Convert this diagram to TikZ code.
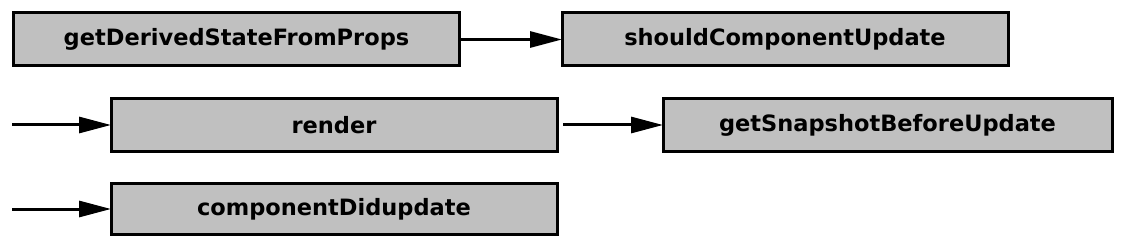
\documentclass[tikz,border=0pt]{standalone}
\usepackage{fontspec}
\setmainfont{DejaVu Sans}
\usepackage{xcolor}
\usetikzlibrary{arrows.meta}

\definecolor{boxgray}{HTML}{C0C0C0}

\begin{document}
\begin{tikzpicture}[x=1pt, y=-1pt,
  font=\bfseries\fontsize{22.5}{27}\selectfont,
  box/.style={draw=black, line width=3pt, fill=boxgray, outer sep=0pt,
              minimum width=446pt, minimum height=53pt, inner sep=0pt},
  arr/.style={-{Triangle[length=32pt, width=16pt]}, line width=3pt, black}]
\useasboundingbox (0,0) rectangle (1137,248);

% first row: props -> update check
\node[box] (props) at (236.5, 39.5) {getDerivedStateFromProps};
\node[box] (scu)   at (785, 39.5)   {shouldComponentUpdate};
\draw[arr] (props.east) -- (scu.west);

% second row: render -> snapshot
\coordinate (in1) at (12, 125);
\node[box] (render) at (334, 125)   {render};
\node[box, minimum width=449pt] (snap) at (887.5, 125) {getSnapshotBeforeUpdate};
\draw[arr] (in1) -- (render.west);
\draw[arr, shorten <=6pt] (render.east) -- (snap.west);

% third row: did update
\coordinate (in2) at (12, 209);
\node[box, minimum height=51pt] (did) at (334, 209) {componentDidupdate};
\draw[arr] (in2) -- (did.west);
\end{tikzpicture}
\end{document}
